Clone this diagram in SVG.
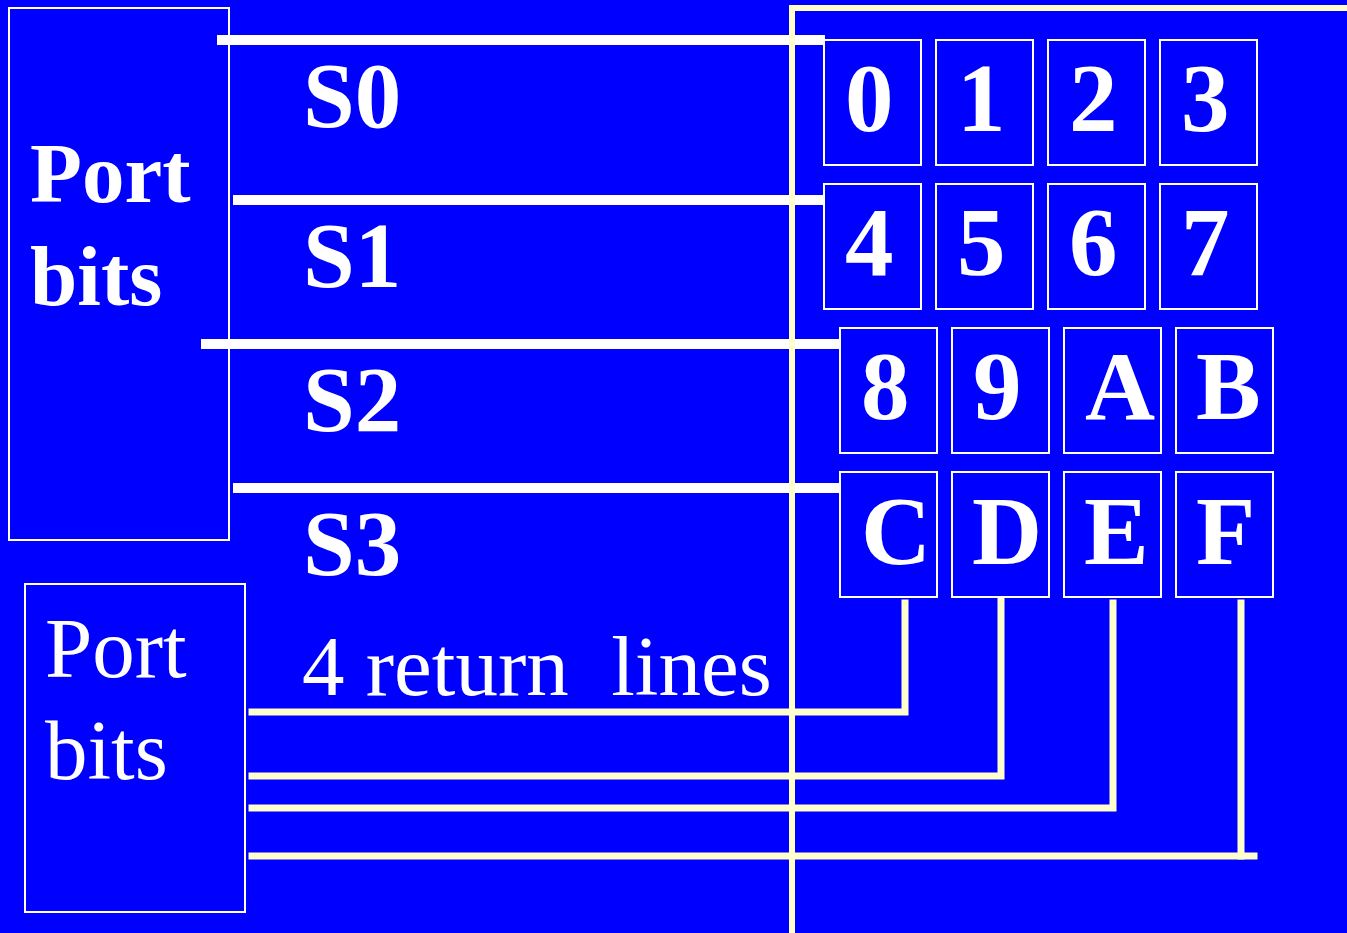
<svg xmlns="http://www.w3.org/2000/svg" width="1347" height="933" viewBox="0 0 1347 933">
<style>
.box{fill:#0000FF;stroke:#FFFFFF;stroke-width:2}
.key{font-family:"Liberation Serif","Times New Roman",serif;font-weight:bold;font-size:97px;fill:#FFFFFF}
.lbl{font-family:"Liberation Serif","Times New Roman",serif;font-weight:bold;font-size:93px;fill:#FFFFFF}
.pb{font-family:"Liberation Serif","Times New Roman",serif;font-weight:bold;font-size:85px;fill:#FFFFFF}
.pr{font-family:"Liberation Serif","Times New Roman",serif;font-size:85px;fill:#FFFFFF}
.sline{stroke:#FFFFFF;stroke-width:10;fill:none}
.rline{stroke:#FFFFCC;stroke-width:7;fill:none;stroke-linejoin:miter;stroke-linecap:square}
.frame{stroke:#FFFFCC;stroke-width:6;fill:none}
</style>
<rect x="0" y="0" width="1347" height="933" fill="#0000FF"/>

<g id="port-bits-top">
<rect class="box" x="9" y="8" width="220" height="532"/>
<text class="pb" x="30" y="202">Port</text>
<text class="pb" x="30" y="305">bits</text>
</g>

<g id="port-bits-bottom">
<rect class="box" x="25" y="584" width="220" height="328"/>
<text class="pr" x="45" y="677">Port</text>
<text class="pr" x="45" y="779">bits</text>
</g>

<g id="scan-labels">
<text class="lbl" x="303" y="127">S0</text>
<text class="lbl" x="303" y="287">S1</text>
<text class="lbl" x="303" y="431">S2</text>
<text class="lbl" x="303" y="575">S3</text>
<text class="pr" x="302" y="695" xml:space="preserve">4 return  lines</text>
</g>

<g id="connectors">
<line class="sline" x1="217" y1="40" x2="825" y2="40"/>
<line class="sline" x1="233" y1="200" x2="825" y2="200"/>
<line class="sline" x1="201" y1="344" x2="841" y2="344"/>
<line class="sline" x1="233" y1="488" x2="841" y2="488"/>
<polyline class="rline" points="252,712 905,712 905,603"/>
<polyline class="rline" points="252,776 1001,776 1001,587"/>
<polyline class="rline" points="252,808 1113,808 1113,603"/>
<polyline class="rline" points="252,856 1254,856"/>
<line class="rline" x1="1241" y1="603" x2="1241" y2="856"/>
<polyline class="frame" points="792,933 792,8 1347,8"/>
</g>

<g id="key-0"><rect class="box" x="824" y="40" width="97" height="125"/><text class="key" x="845" y="131">0</text></g>
<g id="key-1"><rect class="box" x="936" y="40" width="97" height="125"/><text class="key" x="957" y="131">1</text></g>
<g id="key-2"><rect class="box" x="1048" y="40" width="97" height="125"/><text class="key" x="1069" y="131">2</text></g>
<g id="key-3"><rect class="box" x="1160" y="40" width="97" height="125"/><text class="key" x="1181" y="131">3</text></g>
<g id="key-4"><rect class="box" x="824" y="184" width="97" height="125"/><text class="key" x="845" y="275">4</text></g>
<g id="key-5"><rect class="box" x="936" y="184" width="97" height="125"/><text class="key" x="957" y="275">5</text></g>
<g id="key-6"><rect class="box" x="1048" y="184" width="97" height="125"/><text class="key" x="1069" y="275">6</text></g>
<g id="key-7"><rect class="box" x="1160" y="184" width="97" height="125"/><text class="key" x="1181" y="275">7</text></g>
<g id="key-8"><rect class="box" x="840" y="328" width="97" height="125"/><text class="key" x="861" y="419">8</text></g>
<g id="key-9"><rect class="box" x="952" y="328" width="97" height="125"/><text class="key" x="973" y="419">9</text></g>
<g id="key-A"><rect class="box" x="1064" y="328" width="97" height="125"/><text class="key" x="1085" y="419">A</text></g>
<g id="key-B"><rect class="box" x="1176" y="328" width="97" height="125"/><text class="key" x="1196" y="419">B</text></g>
<g id="key-C"><rect class="box" x="840" y="472" width="97" height="125"/><text class="key" x="861" y="564">C</text></g>
<g id="key-D"><rect class="box" x="952" y="472" width="97" height="125"/><text class="key" x="972" y="564">D</text></g>
<g id="key-E"><rect class="box" x="1064" y="472" width="97" height="125"/><text class="key" x="1084" y="564">E</text></g>
<g id="key-F"><rect class="box" x="1176" y="472" width="97" height="125"/><text class="key" x="1196" y="564">F</text></g>
</svg>
